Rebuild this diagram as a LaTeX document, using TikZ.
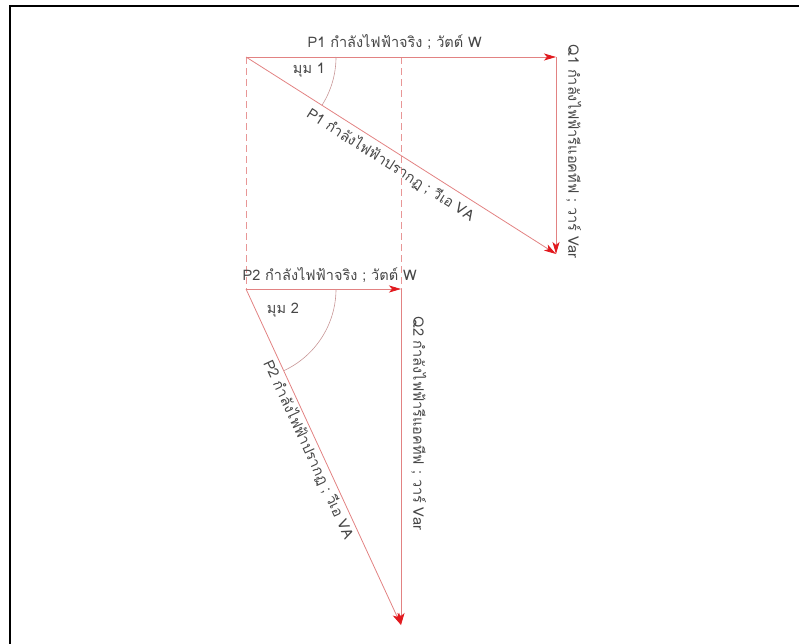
\documentclass[tikz,border=0pt]{standalone}
\usepackage{fontspec}
\newfontfamily\thaifont[Script=Thai]{Loma}
\usetikzlibrary{arrows.meta}
\definecolor{vecline}{RGB}{226,130,130}
\definecolor{dashline}{RGB}{232,150,150}
\definecolor{arcline}{RGB}{200,150,150}
\definecolor{tipred}{RGB}{225,25,30}
\definecolor{txtgray}{RGB}{70,70,70}
\begin{document}
\begin{tikzpicture}[x=1pt, y=-1pt, font=\thaifont\fontsize{14.5}{16}\selectfont, text=txtgray,
  vec/.style={draw=vecline, line width=0.8pt, -{Stealth[length=12pt, width=7pt, inset=3pt, color=tipred]}},
  guide/.style={draw=dashline, line width=0.8pt, dash pattern=on 7pt off 4pt},
  ang/.style={draw=arcline, line width=0.6pt},
  lbl/.style={inner sep=1pt}]
\useasboundingbox (0,0) rectangle (799,643);
\draw[line width=2pt] (10,700) |- (850,6);
% upper triangle
\coordinate (O1) at (246,57);\coordinate (P1) at (556,57);\coordinate (Q1) at (556,254);\coordinate (M1) at (401,57);
% lower triangle
\coordinate (O2) at (246,289);\coordinate (P2) at (401,289);\coordinate (Q2) at (401,625);
\draw[guide] (O1)--(O2);\draw[guide] (M1)--(P2);
\draw[vec] (O1) -- node[lbl, above=6pt, pos=0.48] (p1txt) {P1 กำลังไฟฟ้าจริง ; วัตต์ W} (P1);
\draw[vec] (P1) -- node[lbl, sloped, above=9pt, pos=0.48] (q1txt) {Q1 กำลังไฟฟ้ารีแอคทีฟ ; วาร์ Var} (Q1);
\draw[vec] (O1) -- node[lbl, sloped, below=4pt, pos=0.49] (s1txt) {P1 กำลังไฟฟ้าปรากฏ ; วีเอ VA} (Q1);
\draw[ang] (O1) ++(90,0) arc[start angle=0, end angle=32.4, radius=90];
\node[lbl] (a1txt) at (309,70) {มุม 1};
\draw[vec] (O2) -- node[lbl, above=5pt, pos=0.54] (p2txt) {P2 กำลังไฟฟ้าจริง ; วัตต์ W} (P2);
\draw[vec] (P2) -- node[lbl, sloped, above=9pt, pos=0.40] (q2txt) {Q2 กำลังไฟฟ้ารีแอคทีฟ ; วาร์ Var} (Q2);
\draw[vec] (O2) -- node[lbl, sloped, below=1pt, pos=0.465] (s2txt) {P2 กำลังไฟฟ้าปรากฏ ; วีเอ VA} (Q2);
\draw[ang] (O2) ++(90,0) arc[start angle=0, end angle=65.2, radius=90];
\node[lbl] (a2txt) at (283,310) {มุม 2};
\end{tikzpicture}
\end{document}
